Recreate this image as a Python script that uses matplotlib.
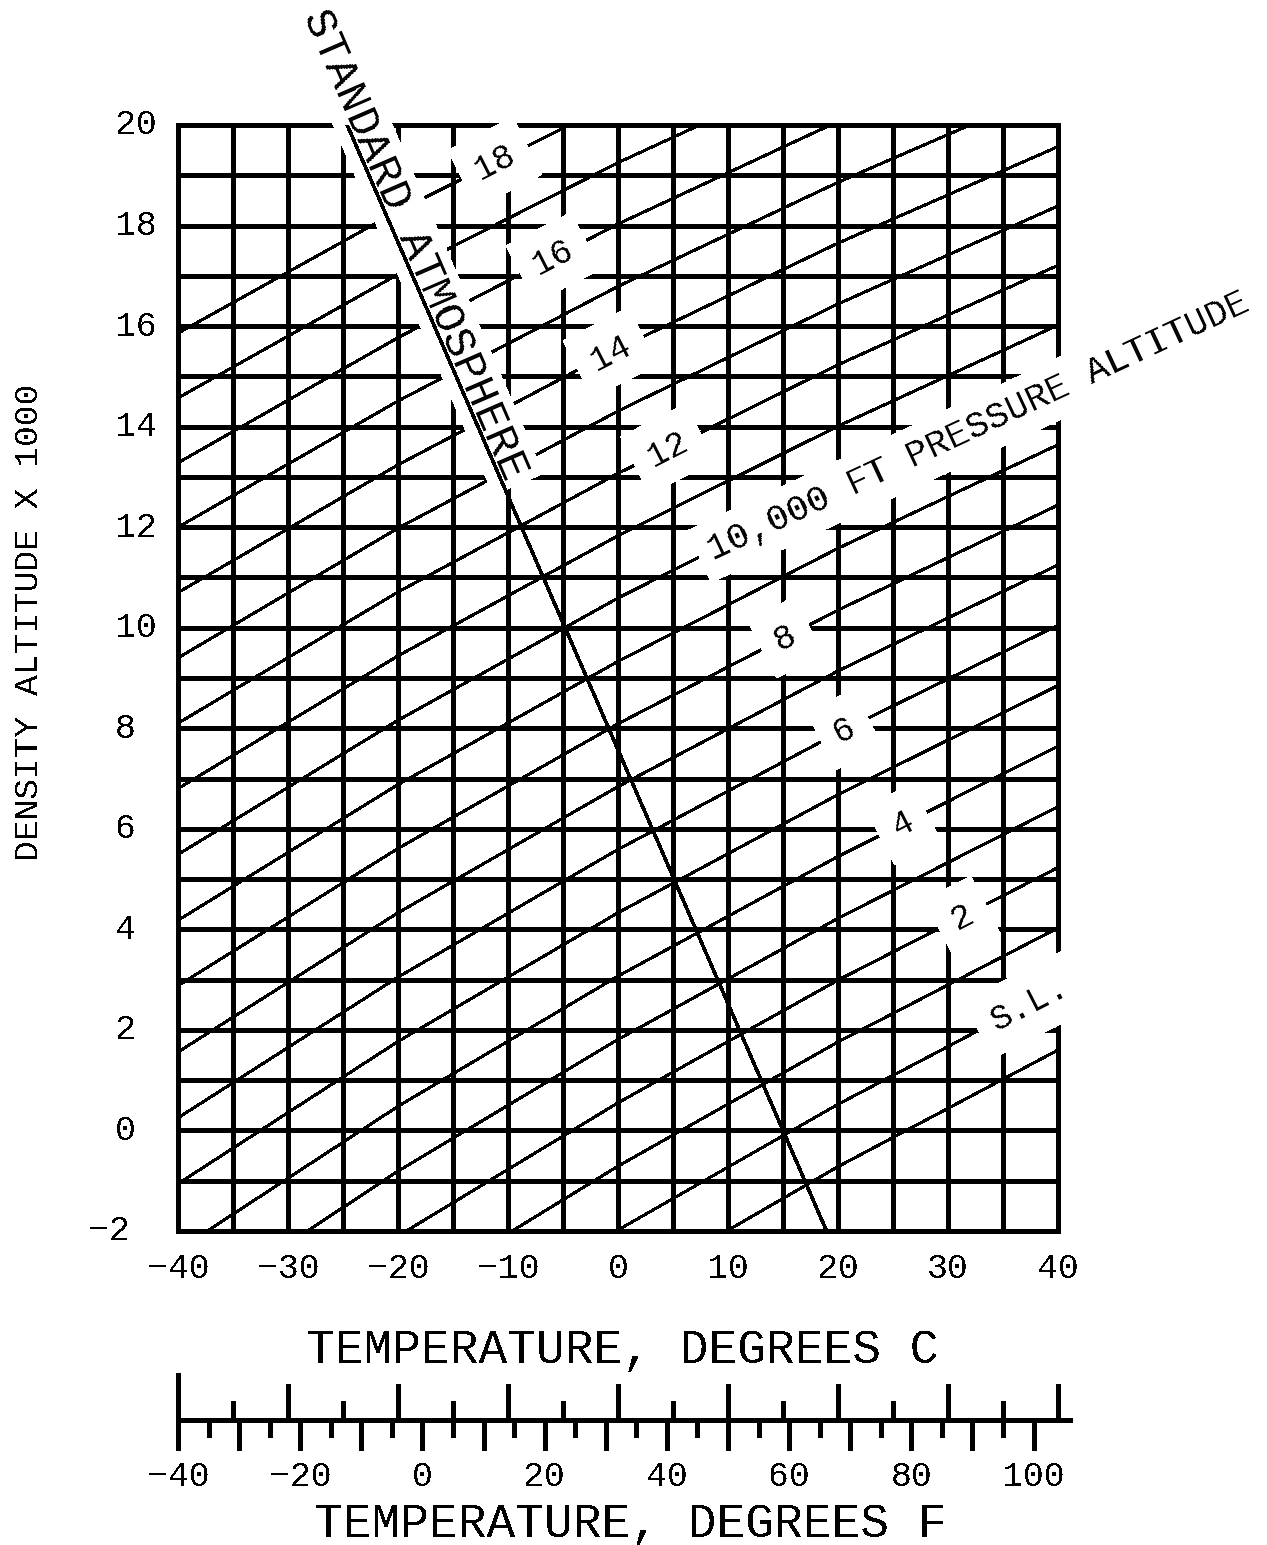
import matplotlib
matplotlib.use("Agg")
import matplotlib.pyplot as plt
import numpy as np

plt.rcParams['font.family'] = ['Liberation Mono', 'DejaVu Sans Mono', 'DejaVu Sans']
plt.rcParams['lines.antialiased'] = False
plt.rcParams['text.antialiased'] = False
plt.rcParams['patch.antialiased'] = False

W, H = 1267, 1545

# Chart ranges and grid
temp_grid = list(range(-40, 41, 5))          # deg C, vertical grid lines
alt_grid = list(range(-2, 21, 1))            # density altitude x1000 ft, horizontal grid lines
temp_ticks = [-40, -30, -20, -10, 0, 10, 20, 30, 40]
alt_ticks = [-2, 0, 2, 4, 6, 8, 10, 12, 14, 16, 18, 20]

# Pressure-altitude lines (x1000 ft): density altitude at each node temperature
line_temps = [-40, -20, 0, 20, 40]
pressure_alts = [-1, 0, 1, 2, 3, 4, 5, 6, 7, 8, 9, 10, 11, 12, 13, 14, 15, 16, 17, 18]
da_at_m40 = [-9.00, -7.67, -6.34, -5.02, -3.70, -2.38, -1.06, 0.25, 1.56, 2.88,
             4.18, 5.49, 6.80, 8.10, 9.40, 10.70, 12.00, 13.28, 14.57, 15.86]
da_at_m20 = [-5.99, -4.69, -3.39, -2.10, -0.81, 0.48, 1.77, 3.05, 4.33, 5.61,
             6.88, 8.16, 9.44, 10.71, 11.98, 13.24, 14.51, 15.77, 17.03, 18.29]
da_at_0 = [-3.25, -1.98, -0.71, 0.55, 1.81, 3.07, 4.33, 5.59, 6.84, 8.09,
           9.33, 10.59, 11.83, 13.07, 14.31, 15.55, 16.79, 18.03, 19.25, 20.48]
da_at_20 = [-0.72, 0.52, 1.76, 2.99, 4.22, 5.45, 6.68, 7.91, 9.14, 10.35,
            11.58, 12.80, 14.01, 15.23, 16.44, 17.65, 18.86, 20.07, 21.27, 22.46]
da_at_40 = [1.60, 2.82, 4.03, 5.23, 6.44, 7.64, 8.85, 10.05, 11.25, 12.44,
            13.64, 14.83, 16.02, 17.21, 18.39, 19.57, 20.76, 21.94, 23.11, 24.29]

# Labels placed along the pressure-altitude lines
label_levels = [0, 2, 4, 6, 8, 10, 12, 14, 16, 18]
label_temps = [37.4, 31.3, 25.9, 20.6, 15.2, 8.3, 4.5, -0.7, -5.9, -11.2]
label_texts = ['S.L.', '2', '4', '6', '8', '10,000 FT PRESSURE ALTITUDE',
               '12', '14', '16', '18']

# Standard atmosphere line
std_alts = [-2, 20]
std_temps = [18.96, -24.62]

# Fahrenheit scale
c_scale_marks = list(range(-40, 41, 5))
f_scale_marks = list(range(-40, 101, 5))
f_scale_labels = [-40, -20, 0, 20, 40, 60, 80, 100]


def f_to_c(f):
    return (np.asarray(f, dtype=float) - 32.0) / 1.8


def num(v):
    return f'{v}'.replace('-', '\u2212')


fig = plt.figure(figsize=(W / 100, H / 100), dpi=100)
fig.patch.set_facecolor('white')

ax = fig.add_axes([178 / W, (H - 1231) / H, 880 / W, 1106 / H])
ax.set_xlim(-40, 40)
ax.set_ylim(-2, 20)
ax.axis('off')

grid_lw = 2.2
for t in temp_grid:
    ax.axvline(t, color='black', lw=grid_lw, zorder=1, clip_on=False)
for a in alt_grid:
    ax.axhline(a, color='black', lw=grid_lw, zorder=1, clip_on=False)

rows = np.array([da_at_m40, da_at_m20, da_at_0, da_at_20, da_at_40]).T
for p, row in zip(pressure_alts, rows):
    ax.plot(line_temps, row, color='black', lw=1.4, zorder=2)

for lev, t, txt in zip(label_levels, label_temps, label_texts):
    row = rows[pressure_alts.index(lev)]
    da = np.interp(t, line_temps, row)
    long = len(txt) > 5
    ax.text(t, da, txt, rotation=25 if long else 27, rotation_mode='anchor',
            ha='left' if long else 'center', va='center',
            fontsize=26.5 if long else 25, color='black', zorder=4,
            bbox=dict(boxstyle='square,pad=%s' % (0.3 if long else 0.45),
                      fc='white', ec='none'))

# Standard atmosphere line and its label
ax.plot(std_temps, std_alts, color='black', lw=1.8, zorder=5)
std_label_alt = 17.5
std_label_temp = np.interp(std_label_alt, std_alts, std_temps)
ang = -66.57
perp = np.array([np.cos(np.radians(ang + 90)), np.sin(np.radians(ang + 90))])
off = perp * 2.0
ax.annotate('STANDARD ATMOSPHERE', xy=(std_label_temp, std_label_alt),
            xytext=(off[0], off[1]), textcoords='offset points',
            rotation=ang, rotation_mode='anchor', ha='center', va='baseline',
            fontsize=32, color='black', zorder=4, annotation_clip=False,
            bbox=dict(boxstyle='square,pad=0.15', fc='white', ec='none'))

# Tick labels
px_per_kft = 1106 / 22
for t in temp_ticks:
    ax.text(t, -2 - 37 / px_per_kft, num(t), ha='center', va='center',
            fontsize=25, clip_on=False)
for a in alt_ticks:
    x_px = 88 if a < 0 else 115
    ax.text((x_px - 178) / 11 - 40, a, num(a),
            ha='left', va='center', fontsize=25, clip_on=False)

fig.text(622 / W, 1 - 1350 / H, 'TEMPERATURE, DEGREES C', ha='center', va='center',
         fontsize=34.5)
fig.text(30 / W, 1 - 622 / H, 'DENSITY ALTITUDE X 1000', ha='center', va='center',
         rotation=90, fontsize=24.8)

# Fahrenheit scale drawn on its own axes, aligned with the Celsius axis
fax = fig.add_axes([178 / W, (H - 1500) / H, 880 / W, 140 / H])
fax.set_xlim(-40, 40)
fax.set_ylim(1500, 1360)
fax.axis('off')
tick_lw = 2.2
fax.plot([-40, 41.1], [1420, 1420], color='black', lw=tick_lw, clip_on=False)
for c in c_scale_marks:
    top = 1375 if c == -40 else (1386 if c % 10 == 0 else 1403)
    fax.plot([c, c], [1420, top], color='black', lw=tick_lw, clip_on=False)
for f in f_scale_marks:
    bot = 1448 if f % 10 == 0 else 1435
    c = f_to_c(f)
    fax.plot([c, c], [1420, bot], color='black', lw=tick_lw, clip_on=False)
for f in f_scale_labels:
    fax.text(f_to_c(f), 1476, num(f), ha='center', va='center',
             fontsize=25, clip_on=False)

fig.text(630 / W, 1 - 1524 / H, 'TEMPERATURE, DEGREES F', ha='center', va='center',
         fontsize=34.5)

fig.savefig('out.png', dpi=100, facecolor='white')
